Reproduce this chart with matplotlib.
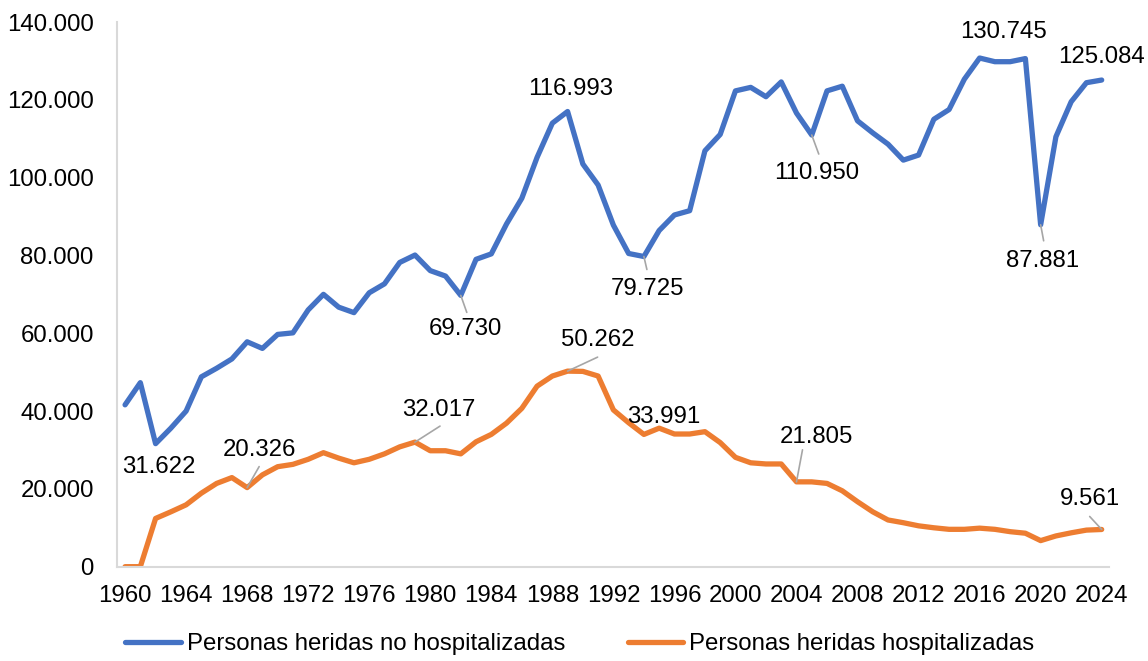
import numpy as np
import matplotlib.pyplot as plt
from matplotlib.ticker import FuncFormatter

plt.rcParams['font.family'] = ['Liberation Sans', 'DejaVu Sans']

# datos
anios = np.arange(1960, 2025)

no_hospitalizadas = [41600, 47300, 31622, 35600, 40000, 48800, 51000, 53400, 57800, 56100,
                     59700, 60100, 66000, 70000, 66700, 65300, 70400, 72700, 78200, 80100,
                     76100, 74700, 69730, 79000, 80400, 88100, 94700, 105200, 114000, 116993,
                     103500, 98100, 87800, 80500, 79725, 86400, 90400, 91500, 106900, 111100,
                     122300, 123200, 120800, 124600, 116600, 110950, 122300, 123500, 114600, 111500,
                     108600, 104500, 105800, 115000, 117500, 125300, 130745, 129800, 129800, 130600,
                     87881, 110500, 119500, 124400, 125084]

hospitalizadas = [0, 0, 12400, 14100, 15900, 18900, 21400, 22900, 20326, 23600,
                  25700, 26300, 27600, 29300, 27900, 26700, 27600, 29000, 30800, 32017,
                  29800, 29800, 29000, 32100, 34000, 36900, 40700, 46400, 49000, 50262,
                  50200, 49000, 40300, 37000, 33991, 35600, 34100, 34100, 34700, 31900,
                  28100, 26700, 26400, 26400, 21805, 21800, 21400, 19500, 16700, 14100,
                  12000, 11300, 10500, 10000, 9600, 9600, 9900, 9600, 9000, 8600,
                  6700, 7900, 8700, 9400, 9561]

serie1 = "Personas heridas no hospitalizadas"
serie2 = "Personas heridas hospitalizadas"

# anios con etiqueta de dato
etiq_azul = [1962, 1982, 1989, 1994, 2005, 2016, 2020, 2024]
etiq_naranja = [1968, 1979, 1989, 1994, 2004, 2024]

# desplazamiento del texto (pixeles) y final de la linea guia (None = sin guia)
pos_azul = {1962: ((3, -23), None), 1982: ((5, -34), (6, -17)), 1989: ((3, 23), None),
            1994: ((4, -32), (3, -13)), 2005: ((5, -38), (7, -19)), 2016: ((24, 26), None),
            2020: ((2, -36), (3, -16)), 2024: ((0, 23), None)}
pos_naranja = {1968: ((12, 38), (12, 21)), 1979: ((24, 32), (25, 16)), 1989: ((30, 31), (30, 14)),
               1994: ((20, 17), None), 2004: ((20, 45), (6, 32)), 2024: ((-12, 30), (-12, 13))}

TAM = 17.3


def miles(v, pos=None):
    return f"{int(v):,}".replace(",", ".")


def etiquetar(ax, x, y, anios_etq, pos):
    for a in anios_etq:
        v = y[list(x).index(a)]
        texto, guia = pos[a]
        if guia is not None:
            ax.annotate("", xy=(a, v), xytext=guia, textcoords="offset pixels",
                        arrowprops=dict(arrowstyle="-", color="#a6a6a6", lw=1.2,
                                        shrinkA=0, shrinkB=0))
        ax.annotate(miles(v), xy=(a, v), xytext=texto, textcoords="offset pixels",
                    ha="center", va="center", fontsize=TAM, color="black")


fig = plt.figure(figsize=(11.48, 6.61), dpi=100)
ax = fig.add_axes([0.1023, 0.1427, 0.864, 0.824])

ax.plot(anios, no_hospitalizadas, color="#4472C4", lw=3.8, solid_joinstyle="round",
        solid_capstyle="round", label=serie1)
ax.plot(anios, hospitalizadas, color="#ED7D31", lw=3.8, solid_joinstyle="round",
        solid_capstyle="round", label=serie2)

etiquetar(ax, anios, no_hospitalizadas, etiq_azul, pos_azul)
etiquetar(ax, anios, hospitalizadas, etiq_naranja, pos_naranja)

ax.set_xlim(1959.5, 2024.5)
ax.set_ylim(0, 140000)
ax.set_xticks(np.arange(1960, 2025, 4))
ax.set_yticks(np.arange(0, 140001, 20000))
ax.yaxis.set_major_formatter(FuncFormatter(miles))
ax.tick_params(axis="both", length=0, labelsize=TAM)
ax.tick_params(axis="y", pad=17)
ax.tick_params(axis="x", pad=13)

for s in ["top", "right"]:
    ax.spines[s].set_visible(False)
for s in ["left", "bottom"]:
    ax.spines[s].set_color("#d9d9d9")
    ax.spines[s].set_linewidth(1.5)

fig.legend(loc="center", bbox_to_anchor=(0.505, 0.025), ncol=2, frameon=False,
           fontsize=TAM, handlelength=2.3, handletextpad=0.25, columnspacing=2.6)

fig.savefig("out.png", dpi=100)
